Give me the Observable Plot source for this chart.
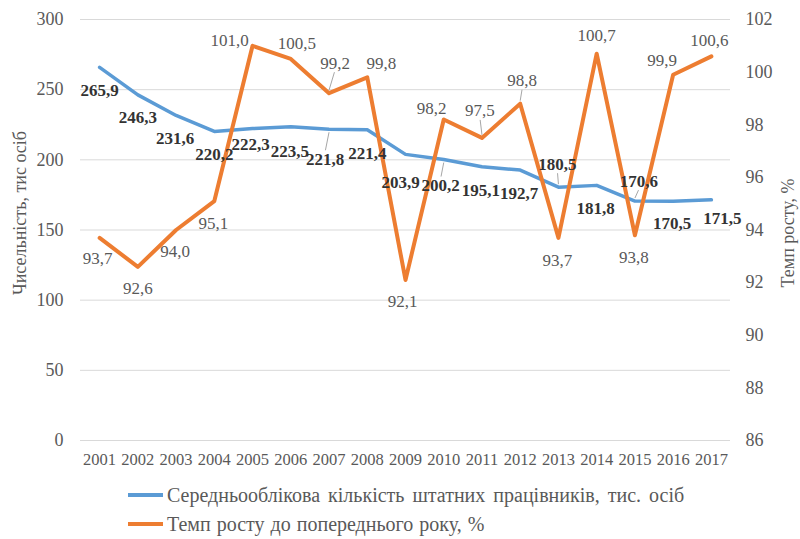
<!DOCTYPE html>
<html><head><meta charset="utf-8">
<script src="https://cdn.jsdelivr.net/npm/d3@7"></script>
<script src="https://cdn.jsdelivr.net/npm/@observablehq/plot@0.6"></script>
<style>
body{margin:0;background:#fff;font-family:"Liberation Serif","Times New Roman",serif;}
#wrap{position:relative;width:800px;height:539px;overflow:hidden;}
.leg{position:absolute;left:128px;height:28px;display:flex;align-items:center;color:#595959;font-size:20px;white-space:nowrap;}
.leg svg{margin-right:4px;}
</style></head><body><div id="wrap"><div id="chart"></div></div>
<script>
const years = [2001,2002,2003,2004,2005,2006,2007,2008,2009,2010,2011,2012,2013,2014,2015,2016,2017];
const headcount = [265.9,246.3,231.6,220.2,222.3,223.5,221.8,221.4,203.9,200.2,195.1,192.7,180.5,181.8,170.6,170.5,171.5];
const growth = [93.7,92.6,94.0,95.1,101.0,100.5,99.2,99.8,92.1,98.2,97.5,98.8,93.7,100.7,93.8,99.9,100.6];
const leftTicks = [0,50,100,150,200,250,300];
const rightTicks = [86,88,90,92,94,96,98,100,102];
const seriesNames = ["Середньооблікова кількість штатних працівників, тис. осіб","Темп росту до попереднього року, %"];
const seriesColors = ["#5B9BD5","#ED7D31"];
const leftTitle = "Чисельність, тис осіб";
const rightTitle = "Темп росту, %";

// label placement (pixel offsets from each point) and leader flags
const blueDx = [0,0,-1,0,-2,-1,-4,0,-5,-3,-1,-1,-1,-1,4,-1,11];
const blueDy = [23,23,23,23,16,25,30,24,28,26,24,23,-23,23,-20,22,19];
const blueLeader = [0,0,0,0,0,0,1,0,0,1,0,0,1,0,1,0,0];
const orDx = [-2,0,-1,-1,-23,6,6,14,-3,-12,-2,2,-1,0,-1,-11,-2];
const orDy = [21,22,22,22,-5,-15,-30,-14,22,-11,-27,-23,23,-18,22,-14,-16];
const orLeader = [0,0,0,0,0,0,1,0,0,0,1,1,0,0,0,0,0];

const W = 800, H = 475, mt = 19, mb = 35, ml = 80, mr = 70;
const pxY = (H - mt - mb) / 300;
const pxX = (W - ml - mr) / years.length;
const rMin = rightTicks[0], rMax = rightTicks[rightTicks.length - 1];
const g2y = v => (v - rMin) / (rMax - rMin) * 300;
const y2g = y => y / 300 * (rMax - rMin) + rMin;
const fmt = v => v.toFixed(1).replace(".", ",");

const blue = years.map((yr, i) => ({yr, v: headcount[i], lx: yr + blueDx[i] / pxX, ly: headcount[i] - blueDy[i] / pxY, dy: blueDy[i], dx: blueDx[i], lead: blueLeader[i]}));
const orange = years.map((yr, i) => ({yr, v: g2y(growth[i]), raw: growth[i], lx: yr + orDx[i] / pxX, ly: g2y(growth[i]) - orDy[i] / pxY, dy: orDy[i], dx: orDx[i], lead: orLeader[i]}));
const leaders = [...blue, ...orange].filter(d => d.lead).map(d => {
  const s = Math.sign(d.dy);
  const endDy = d.dy - s * 9;
  return {x1: d.yr, y1: d.v - s * 3 / pxY, x2: d.yr + (d.dx * 0.9) / pxX, y2: d.v - endDy / pxY};
});

const chart = Plot.plot({
  width: W, height: H,
  marginTop: mt, marginBottom: mb, marginLeft: ml, marginRight: mr,
  style: {fontFamily: "'Liberation Serif','Times New Roman',serif", background: "#fff"},
  x: {type: "linear", domain: [years[0] - 0.5, years[years.length - 1] + 0.5]},
  y: {domain: [0, 300]},
  marks: [
    Plot.ruleY(leftTicks, {stroke: "#d9d9d9", strokeWidth: 1}),
    Plot.axisX(years, {tickSize: 0, tickPadding: 13, tickFormat: d => String(d), fontSize: 16.5, color: "#595959", label: null}),
    Plot.axisY(leftTicks, {anchor: "left", tickSize: 0, tickPadding: 17, fontSize: 18, color: "#595959", label: null}),
    Plot.axisY(rightTicks.map(g2y), {anchor: "right", tickSize: 0, tickPadding: 15, fontSize: 18, color: "#595959", tickFormat: d => String(Math.round(y2g(d))), label: null}),
    Plot.text([leftTitle], {frameAnchor: "left", textAnchor: "middle", rotate: -90, dx: -60, dy: -17, fontSize: 18, fill: "#595959"}),
    Plot.text([rightTitle], {frameAnchor: "right", textAnchor: "middle", rotate: -90, dx: 58, dy: 3, fontSize: 18, fill: "#595959"}),
    Plot.line(blue, {x: "yr", y: "v", stroke: seriesColors[0], strokeWidth: 3.5}),
    Plot.line(orange, {x: "yr", y: "v", stroke: seriesColors[1], strokeWidth: 4}),
    Plot.link(leaders, {x1: "x1", y1: "y1", x2: "x2", y2: "y2", stroke: "#a6a6a6", strokeWidth: 1}),
    Plot.text(blue, {x: "lx", y: "ly", text: d => fmt(d.v), fontSize: 17, fontWeight: "bold", fill: "#333333"}),
    Plot.text(orange, {x: "lx", y: "ly", text: d => fmt(d.raw), fontSize: 17, fill: "#595959"})
  ]
});
document.getElementById("chart").appendChild(chart);

const wrap = document.getElementById("wrap");
const legTops = [481, 510];
const legSpacing = ["3px", "1px"];
seriesNames.forEach((name, i) => {
  const row = document.createElement("div");
  row.className = "leg";
  row.style.top = legTops[i] + "px";
  row.style.wordSpacing = legSpacing[i];
  row.innerHTML = `<svg width="35" height="6"><line x1="0" y1="3" x2="35" y2="3" stroke="${seriesColors[i]}" stroke-width="4"/></svg><span>${name}</span>`;
  wrap.appendChild(row);
});
</script>
</body></html>
